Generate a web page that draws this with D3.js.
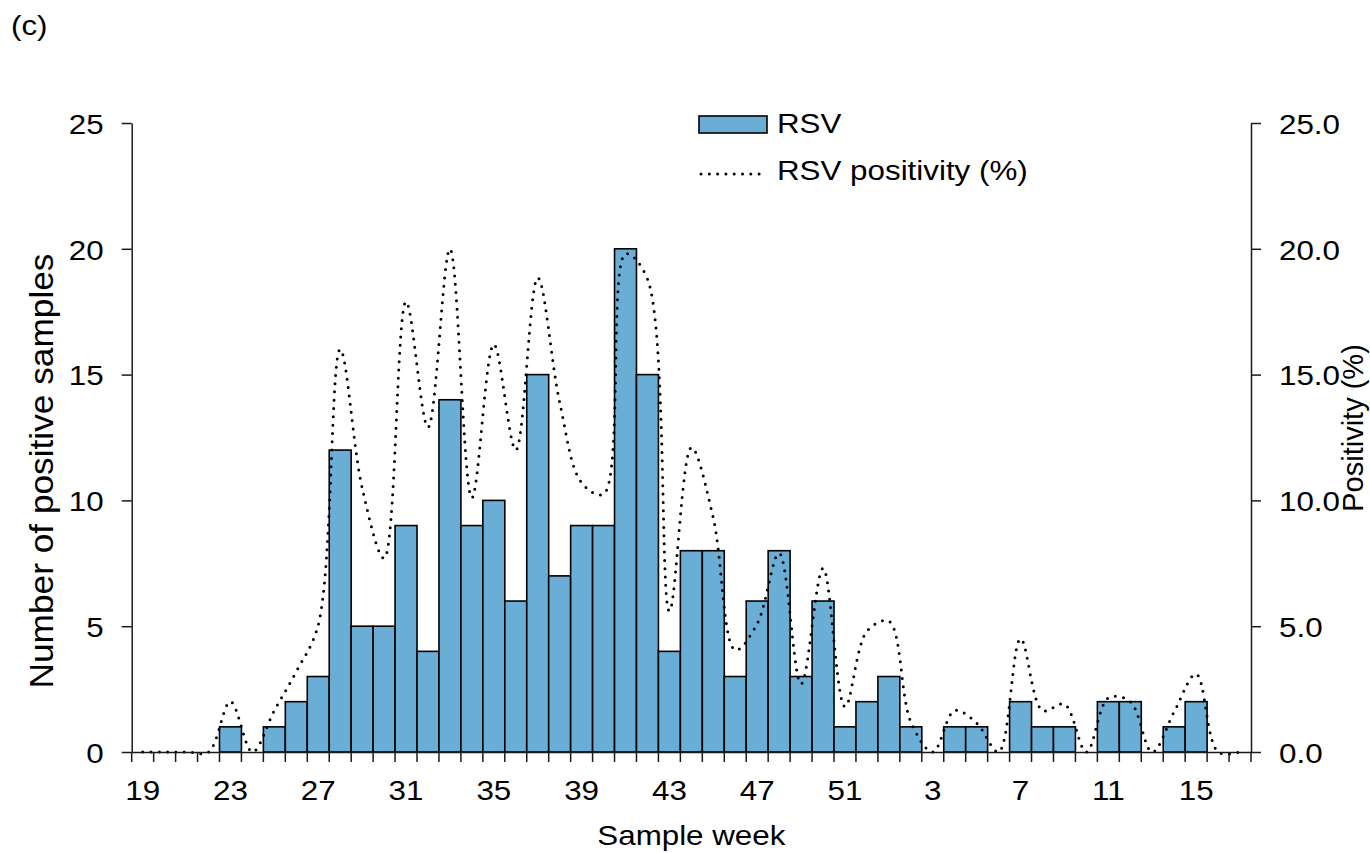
<!DOCTYPE html>
<html><head><meta charset="utf-8">
<script src="https://cdn.jsdelivr.net/npm/d3@7"></script>
<style>
body{margin:0;background:#fff}
svg{display:block}
text{font-family:"Liberation Sans",Arial,sans-serif;fill:#000}
</style>
</head><body>
<svg id="chart" width="1370" height="853"></svg>
<script>
// ---------- data ----------
const weeks = ["19","20","21","22","23","24","25","26","27","28","29","30","31","32","33","34","35","36","37","38","39","40","41","42","43","44","45","46","47","48","49","50","51","52","1","2","3","4","5","6","7","8","9","10","11","12","13","14","15","16","17"];
const rsvCounts = [0,0,0,0,1,0,1,2,3,12,5,5,9,4,14,9,10,6,15,7,9,9,20,15,4,8,8,3,6,8,3,6,1,2,3,1,0,1,1,0,2,1,1,0,2,2,0,1,2,0,0];
const positivity = [0,0,0,0,2.0,0,1.65,3.2,5.05,16.0,10.5,7.7,17.9,12.9,20.0,10.1,16.2,12.0,18.85,13.9,10.7,10.25,19.8,18.8,5.6,12.1,9.3,4.05,5.1,7.9,2.7,7.3,1.8,4.8,5.2,1.2,0,1.65,1.15,0,4.5,1.65,1.9,0,2.15,2.0,0,1.6,3.1,0,0];
const xLabelWeeks = ["19","23","27","31","35","39","43","47","51","3","7","11","15"];
const countTicks = [0,5,10,15,20,25];
const positivityTicks = [0,5,10,15,20,25];
const legendLabels = ["RSV","RSV positivity (%)"];

// ---------- layout ----------
const L = 131.7, R = 1251, T = 123, B = 752;
const FS = 28.5, SX = 1.1;
const svg = d3.select("#chart");

const x = d3.scaleBand().domain(weeks).range([L, R]).padding(0);
const bw = x.bandwidth();
const y = d3.scaleLinear().domain([0, 25]).range([B, T]);
const y2 = d3.scaleLinear().domain([0, 25]).range([B, T]);

function htext(g, str, tx, ty, anchor, size) {
  return g.append("text")
    .attr("transform", `translate(${tx},${ty}) scale(${SX},1)`)
    .attr("text-anchor", anchor)
    .style("font-size", (size || FS) + "px")
    .text(str);
}

// ---------- bars ----------
const barData = weeks.map((w, i) => ({w, v: rsvCounts[i]})).filter(d => d.v > 0);
svg.append("g").selectAll("rect").data(barData).join("rect")
  .attr("x", d => x(d.w))
  .attr("y", d => y(d.v))
  .attr("width", bw)
  .attr("height", d => y(0) - y(d.v))
  .attr("fill", "#6aaed6")
  .attr("stroke", "#000")
  .attr("stroke-width", 1.6);

// ---------- positivity line ----------
const line = d3.line()
  .x((d, i) => x(weeks[i]) + bw / 2)
  .y(d => y2(d))
  .curve(d3.curveCatmullRom.alpha(0.5));
svg.append("path")
  .datum(positivity)
  .attr("d", line)
  .attr("fill", "none")
  .attr("stroke", "#000")
  .attr("stroke-width", 3)
  .attr("stroke-linecap", "round")
  .attr("stroke-dasharray", "0 8.3");

// ---------- axes ----------
const axisColor = "#1a1a1a";
const gL = svg.append("g").attr("transform", `translate(${L},0)`)
  .call(d3.axisLeft(y).tickValues(countTicks).tickSize(10).tickSizeOuter(0).tickFormat(d3.format("d")));
gL.select(".domain").attr("stroke", axisColor).attr("stroke-width", 1.5);
gL.selectAll(".tick line").attr("stroke", axisColor).attr("stroke-width", 1.5);
gL.selectAll(".tick text").attr("x", null).attr("dy", null)
  .attr("transform", `translate(-28,${0.358 * FS}) scale(${SX},1)`)
  .attr("font-family", null).attr("font-size", null).style("font-size", FS + "px");

const gR = svg.append("g").attr("transform", `translate(${R},0)`)
  .call(d3.axisRight(y2).tickValues(positivityTicks).tickSize(10).tickSizeOuter(0).tickFormat(d3.format(".1f")));
gR.select(".domain").attr("stroke", axisColor).attr("stroke-width", 1.5);
gR.selectAll(".tick line").attr("stroke", axisColor).attr("stroke-width", 1.5);
gR.selectAll(".tick text").attr("x", null).attr("dy", null)
  .attr("transform", `translate(28,${0.358 * FS}) scale(${SX},1)`)
  .attr("font-family", null).attr("font-size", null).style("font-size", FS + "px");

const gB = svg.append("g").attr("transform", `translate(0,${B})`)
  .call(d3.axisBottom(x).tickValues(xLabelWeeks).tickSize(0).tickSizeOuter(0));
gB.select(".domain").attr("stroke", axisColor).attr("stroke-width", 1.5);
gB.selectAll(".tick text").attr("y", null).attr("dy", null)
  .attr("transform", `translate(0,48) scale(${SX},1)`)
  .attr("font-family", null).attr("font-size", null).style("font-size", FS + "px");
const boundaries = weeks.map(w => x(w)).concat([x(weeks[weeks.length - 1]) + bw]);
gB.selectAll("line.bt").data(boundaries).join("line").attr("class", "bt")
  .attr("x1", d => d).attr("x2", d => d).attr("y1", 0).attr("y2", 10)
  .attr("stroke", axisColor).attr("stroke-width", 1.5);

// ---------- titles ----------
htext(svg, "Sample week", (L + R) / 2, 845, "middle");
htext(svg, "(c)", 11, 35, "start");

svg.append("text")
  .attr("transform", "translate(53,471) rotate(-90)")
  .attr("text-anchor", "middle")
  .style("font-size", "33px")
  .attr("textLength", 435).attr("lengthAdjust", "spacingAndGlyphs")
  .text("Number of positive samples");

svg.append("text")
  .attr("transform", "translate(1363,428) rotate(-90)")
  .attr("text-anchor", "middle")
  .style("font-size", "29px")
  .text("Positivity (%)");

// ---------- legend ----------
const lg = svg.append("g");
lg.append("rect").attr("x", 699).attr("y", 116).attr("width", 68).attr("height", 17)
  .attr("fill", "#6aaed6").attr("stroke", "#000").attr("stroke-width", 1.6);
htext(lg, legendLabels[0], 777, 133, "start");
lg.append("line").attr("x1", 701).attr("x2", 767).attr("y1", 174).attr("y2", 174)
  .attr("stroke", "#000").attr("stroke-width", 3).attr("stroke-linecap", "round")
  .attr("stroke-dasharray", "0 8.3");
htext(lg, legendLabels[1], 777, 180, "start");
</script>
</body></html>
